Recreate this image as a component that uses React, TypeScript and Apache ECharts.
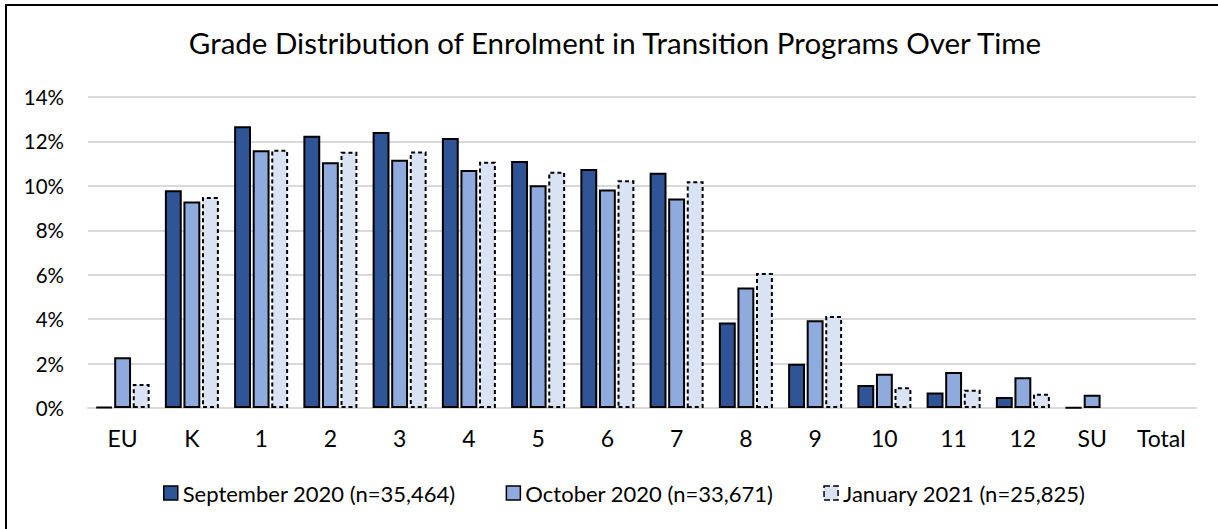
import React, { useEffect, useRef } from "react";
import * as echarts from "echarts";

const titleText = "Grade Distribution of Enrolment in Transition Programs Over Time";
const categories = ["EU", "K", "1", "2", "3", "4", "5", "6", "7", "8", "9", "10", "11", "12", "SU", "Total"];
const seriesNames = [
  "September 2020 (n=35,464)",
  "October 2020 (n=33,671)",
  "January 2021 (n=25,825)",
];
const sep2020 = [0.05, 9.8, 12.68, 12.26, 12.43, 12.15, 11.12, 10.76, 10.59, 3.85, 1.99, 1.03, 0.7, 0.5, 0.03, null];
const oct2020 = [2.28, 9.3, 11.6, 11.06, 11.18, 10.71, 10.03, 9.84, 9.43, 5.43, 3.95, 1.54, 1.62, 1.38, 0.6, null];
const jan2021 = [1.08, 9.5, 11.63, 11.53, 11.55, 11.09, 10.64, 10.25, 10.21, 6.08, 4.14, 0.93, 0.82, 0.64, null, null];
const yTicks = { min: 0, max: 14, interval: 2 };

const FONT = "Lato";

export default function App() {
  const ref = useRef<HTMLDivElement>(null);
  useEffect(() => {
    if (!ref.current) return;
    const chart = echarts.init(ref.current, null, { renderer: "svg" });
    const fills = ["#2F5597", "#8FAADC", "#DAE3F3"];
    const data = [sep2020, oct2020, jan2021];
    chart.setOption({
      animation: false,
      backgroundColor: "#ffffff",
      title: {
        text: titleText,
        left: 615,
        textAlign: "center",
        top: 27,
        padding: 0,
        textStyle: { fontFamily: FONT, fontSize: 29.5, fontWeight: "normal", color: "#000" },
      },
      graphic: [
        {
          type: "rect",
          shape: { x: 6, y: 5, width: 1400, height: 700 },
          style: { fill: "none", stroke: "#000", lineWidth: 2 },
          silent: true,
        },
      ],
      legend: {
        left: 163,
        top: 482,
        padding: 0,
        itemWidth: 14,
        itemHeight: 14,
        itemGap: 50,
        textStyle: { fontFamily: FONT, fontSize: 22, color: "#000" },
        data: seriesNames.map((n, i) => ({
          name: n,
          icon: "rect",
          itemStyle: {
            color: fills[i],
            borderColor: "#000",
            borderWidth: 1.5,
            borderType: i === 2 ? "dashed" : "solid",
          },
        })),
      },
      grid: { left: 88, right: 22, top: 97, bottom: 121, containLabel: false },
      xAxis: {
        type: "category",
        data: categories,
        axisLine: { lineStyle: { color: "#D9D9D9", width: 2 } },
        axisTick: { show: false },
        axisLabel: { fontFamily: FONT, fontSize: 23, color: "#000", margin: 18 },
      },
      yAxis: {
        type: "value",
        min: yTicks.min,
        max: yTicks.max,
        interval: yTicks.interval,
        axisLine: { show: false },
        axisTick: { show: false },
        splitLine: { lineStyle: { color: "#D9D9D9", width: 2 } },
        axisLabel: {
          fontFamily: FONT,
          fontSize: 20.5,
          color: "#000",
          margin: 24,
          formatter: (v: number) => `${v}%`,
        },
      },
      series: seriesNames.map((n, i) => ({
        name: n,
        type: "bar",
        data: data[i],
        barGap: "10%",
        barCategoryGap: "22%",
        itemStyle: {
          color: fills[i],
          borderColor: "#000",
          borderWidth: 2,
          borderType: i === 2 ? [4, 3] : "solid",
        },
      })),
    });
    return () => chart.dispose();
  }, []);
  return (
    <div
      ref={ref}
      style={{ position: "absolute", left: 0, top: 0, width: 1218, height: 529 }}
    />
  );
}
